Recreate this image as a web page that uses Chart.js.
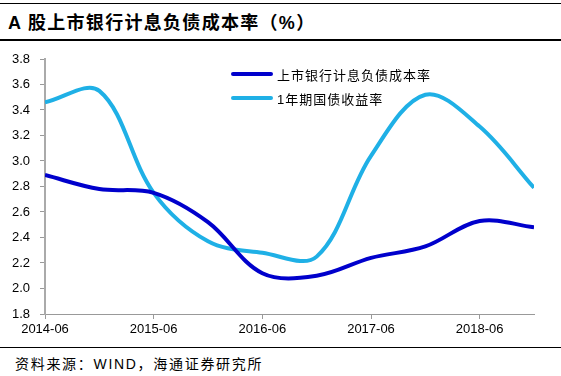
<!DOCTYPE html>
<html><head><meta charset="utf-8">
<script src="https://cdn.jsdelivr.net/npm/chart.js@4/dist/chart.umd.min.js"></script>
<style>
html,body{margin:0;padding:0;background:#fff;}
#wrap{position:relative;width:561px;height:376px;overflow:hidden;font-family:"Liberation Sans","Noto Sans CJK SC",sans-serif;}
.rule{position:absolute;left:0;width:561px;background:#000;}
#title{position:absolute;left:8px;top:8px;font-size:18px;font-weight:bold;color:#000;letter-spacing:1.3px;white-space:nowrap;}
#source{position:absolute;left:15px;top:353px;font-size:14px;color:#000;white-space:nowrap;letter-spacing:1.7px;}
#cbox{position:absolute;left:0;top:40px;width:561px;height:305px;}
#legend{position:absolute;left:231px;top:62px;font-size:13px;color:#000;}
.li{display:flex;align-items:center;height:24px;white-space:nowrap;letter-spacing:1px;}
.sw{display:inline-block;width:42px;height:4px;border-radius:2px;margin-right:4px;}
</style></head>
<body>
<div id="wrap">
  <div class="rule" style="top:3px;height:1px"></div>
  <div id="title">A 股上市银行计息负债成本率（%）</div>
  <div class="rule" style="top:39px;height:2px"></div>
  <div id="cbox"><canvas id="c" width="561" height="305"></canvas></div>
  <div id="legend"></div>
  <div class="rule" style="top:347px;height:1px"></div>
  <div id="source">资料来源：WIND，海通证券研究所</div>
</div>
<script>
// months since 2014-06, semiannual
const months = [0,6,12,18,24,30,36,42,48,54];
const costRate = [2.89,2.78,2.75,2.52,2.12,2.10,2.24,2.33,2.53,2.48];
const bondYield = [3.46,3.55,2.75,2.37,2.28,2.25,3.04,3.52,3.27,2.79];
const tickMonths = [0,12,24,36,48];
const tickLabels = ['2014-06','2015-06','2016-06','2017-06','2018-06'];
const seriesNames = ['上市银行计息负债成本率','1年期国债收益率'];
const seriesColors = ['#0000CC','#1FB0E6'];

const lg = document.getElementById('legend');
seriesNames.forEach((n,i)=>{
  const d=document.createElement('div');d.className='li';
  d.innerHTML='<span class="sw" style="background:'+seriesColors[i]+'"></span><span>'+n+'</span>';
  lg.appendChild(d);
});

const toPts = arr => arr.map((v,i)=>({x:months[i],y:v}));
const font = {family:'"Liberation Sans", Arial, sans-serif', size:13};
new Chart(document.getElementById('c'),{
  type:'line',
  data:{datasets:[
    {label:seriesNames[0],data:toPts(costRate),borderColor:seriesColors[0],borderWidth:4,pointRadius:0,tension:0.35,fill:false},
    {label:seriesNames[1],data:toPts(bondYield),borderColor:seriesColors[1],borderWidth:4,pointRadius:0,tension:0.35,fill:false}
  ]},
  options:{
    responsive:false,animation:false,
    layout:{padding:{top:19,right:27,bottom:0,left:0}},
    plugins:{legend:{display:false},tooltip:{enabled:false}},
    scales:{
      x:{type:'linear',min:0,max:54,
        afterBuildTicks:s=>{s.ticks=tickMonths.map(v=>({value:v}));},
        afterFit:s=>{s.height=31;},
        ticks:{callback:(v)=>tickLabels[tickMonths.indexOf(v)],color:'#000',font:font,padding:3,maxRotation:0,autoSkip:false},
        grid:{drawOnChartArea:false,tickLength:5,color:'#999'},
        border:{color:'#999',width:1}
      },
      y:{min:1.8,max:3.8,
        afterFit:s=>{s.width=45;},
        ticks:{stepSize:0.2,callback:v=>v.toFixed(1),color:'#000',font:font,padding:10},
        grid:{drawOnChartArea:false,tickLength:5,color:'#999'},
        border:{color:'#AAA',width:2}
      }
    }
  }
});
</script>
</body></html>
